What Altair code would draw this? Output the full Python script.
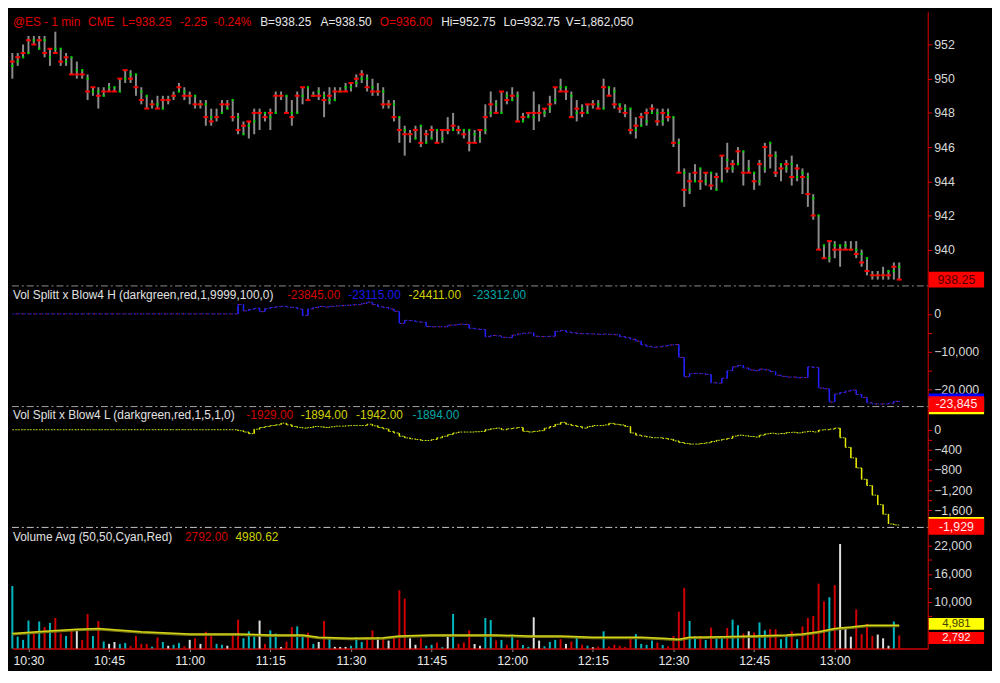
import altair as alt
import pandas as pd

FONT = "Liberation Sans"

# ---------------- data (1-minute bars, minutes after 10:30) ----------------
T_START = -3
OPEN = [950.75, 951.0, 951.25, 951.5, 952.25, 951.75, 952.25, 951.25, 951.75, 951.75, 951.0, 951.25, 950.5,
        950.5, 950.0, 949.25, 949.25, 949.0, 949.5, 949.5, 949.25, 950.0, 950.25,
        950.25, 949.25, 949.0, 948.5, 948.5, 948.25, 948.75, 949.0, 949.25, 949.25,
        949.0, 949.0, 948.5, 948.5, 947.75, 947.75, 948.0, 948.25, 948.75, 947.75,
        946.75, 947.25, 947.5, 948.0, 948.0, 947.75, 948.0, 949.0, 949.0, 948.0,
        948.0, 949.0, 949.5, 949.0, 949.25, 949.0, 948.75, 948.75, 949.25, 949.5,
        949.5, 949.75, 950.0, 950.0, 949.5, 949.25, 949.25, 948.5, 948.5, 947.75,
        947.0, 946.75, 946.5, 947.25, 946.25, 946.5, 947.0, 946.5, 947.0, 947.0,
        947.0, 947.0, 947.0, 946.75, 946.5, 947.0, 948.0, 948.5, 948.0, 949.0,
        948.75, 949.0, 947.5, 947.75, 947.75, 948.0, 948.0, 948.25, 948.75, 949.5,
        949.5, 949.0, 948.0, 948.25, 948.0, 948.5, 948.5, 948.25, 949.5, 949.25,
        948.5, 948.25, 948.25, 947.0, 947.25, 947.5, 948.0, 948.0, 947.5, 948.0,
        947.75, 946.25, 944.5, 943.5, 944.0, 944.75, 944.0, 944.5, 943.5, 944.0,
        945.25, 944.75, 945.0, 945.75, 944.75, 944.5, 944.0, 944.75, 946.25, 945.5,
        945.0, 944.75, 945.0, 944.25, 944.5, 944.25, 943.0, 942.0, 940.25, 939.5,
        940.25, 940.25, 940.25, 940.0, 940.0, 939.75, 939.5, 938.5, 938.5, 938.5,
        938.75, 938.75, 939.0]
HIGH = [951.5, 951.5, 952.0, 952.5, 952.5, 952.5, 952.5, 951.75, 952.75, 951.75, 951.5, 951.25, 951.0,
        950.5, 950.25, 949.5, 949.5, 949.5, 949.75, 949.5, 950.0, 950.5, 950.5,
        950.25, 949.5, 949.0, 948.75, 949.0, 949.0, 949.0, 949.25, 949.75, 949.5,
        949.25, 949.0, 948.75, 948.75, 948.25, 948.25, 948.75, 948.75, 948.75, 948.0,
        947.5, 947.5, 948.25, 948.25, 948.0, 948.25, 949.25, 949.25, 949.0, 948.75,
        949.25, 949.5, 949.5, 949.25, 949.5, 949.25, 949.5, 949.5, 949.5, 949.75,
        949.75, 950.25, 950.5, 950.25, 950.0, 949.75, 949.5, 948.75, 948.75, 947.75,
        947.25, 947.0, 947.25, 947.25, 947.0, 947.25, 947.0, 947.0, 947.75, 948.0,
        947.25, 947.0, 947.0, 947.0, 947.0, 948.5, 949.25, 948.75, 949.25, 949.25,
        949.5, 949.25, 948.0, 948.0, 949.25, 948.5, 948.25, 949.0, 949.5, 950.0,
        949.5, 949.25, 948.75, 948.5, 948.5, 948.75, 948.75, 950.0, 949.5, 949.5,
        948.5, 948.5, 948.25, 947.75, 948.0, 948.25, 948.5, 948.25, 948.25, 948.25,
        947.75, 946.5, 944.75, 944.5, 945.0, 944.75, 944.5, 944.5, 944.5, 945.5,
        946.25, 945.25, 946.0, 945.75, 945.25, 944.5, 945.25, 946.25, 946.25, 945.75,
        945.0, 945.25, 945.5, 945.0, 944.75, 944.5, 943.25, 942.0, 940.25, 940.5,
        940.5, 940.25, 940.5, 940.5, 940.5, 940.0, 939.5, 938.75, 938.75, 939.0,
        938.75, 939.25, 939.25]
LOW = [950.0, 950.75, 951.25, 951.5, 952.0, 951.75, 951.25, 950.75, 951.5, 950.75, 950.75, 950.25, 950.0,
       950.0, 948.75, 949.0, 948.25, 949.0, 949.25, 949.25, 949.25, 949.75, 949.75,
       949.0, 948.5, 948.25, 948.25, 948.25, 948.25, 948.5, 948.75, 949.25, 948.75,
       948.5, 948.25, 948.25, 947.25, 947.25, 947.5, 948.0, 948.25, 947.5, 946.75,
       946.75, 946.5, 946.75, 947.0, 947.5, 947.0, 948.0, 948.75, 948.0, 947.25,
       948.0, 948.5, 948.75, 949.0, 948.75, 947.75, 948.5, 948.75, 949.25, 949.25,
       949.25, 949.5, 949.75, 949.25, 949.0, 949.0, 948.25, 948.25, 947.5, 946.25,
       945.5, 946.25, 946.5, 946.0, 946.25, 946.5, 946.25, 946.25, 946.75, 947.0,
       946.75, 946.5, 945.75, 946.25, 946.25, 946.75, 947.75, 948.0, 948.0, 948.5,
       948.75, 947.5, 947.5, 947.75, 947.0, 947.5, 947.75, 948.0, 948.5, 949.25,
       948.75, 947.75, 947.5, 947.75, 948.0, 948.25, 948.25, 948.25, 949.0, 948.25,
       948.0, 947.75, 946.75, 946.5, 947.25, 947.25, 948.0, 947.25, 947.25, 947.5,
       946.0, 944.5, 942.5, 943.25, 944.0, 943.5, 943.75, 943.5, 943.5, 944.0,
       944.5, 944.5, 945.0, 943.75, 944.5, 943.5, 943.75, 944.5, 944.75, 944.25,
       944.0, 944.5, 943.75, 944.0, 943.25, 942.5, 941.75, 940.0, 939.5, 939.25,
       939.5, 939.0, 940.0, 940.0, 939.5, 939.0, 938.5, 938.25, 938.25, 938.25,
       938.25, 938.25, 938.25]
CLOSE = [951.0, 951.25, 951.5, 952.25, 952.0, 952.25, 951.5, 951.75, 951.5, 951.0, 951.25, 950.25, 950.25,
         950.25, 949.25, 949.5, 949.0, 949.25, 949.25, 949.25, 950.0, 950.5, 950.0,
         949.5, 948.75, 948.25, 948.5, 948.25, 948.75, 948.75, 949.0, 949.5, 949.0,
         949.0, 948.5, 948.5, 947.75, 947.5, 947.75, 948.5, 948.5, 947.75, 947.0,
         947.25, 947.5, 948.0, 948.0, 947.75, 948.0, 949.0, 949.0, 948.0, 947.75,
         949.0, 949.5, 948.75, 949.0, 949.0, 948.75, 949.0, 949.25, 949.25, 949.25,
         949.75, 950.0, 950.25, 949.5, 949.25, 949.25, 948.5, 948.5, 947.75, 947.0,
         946.75, 946.75, 947.0, 946.25, 946.75, 947.0, 946.25, 947.0, 947.0, 947.25,
         947.0, 946.75, 946.25, 946.25, 947.0, 947.75, 948.5, 948.0, 949.25, 948.75,
         949.0, 947.5, 947.75, 948.0, 948.0, 948.0, 948.25, 948.5, 949.5, 949.25,
         949.25, 947.75, 948.25, 948.0, 948.5, 948.5, 948.25, 949.5, 949.0, 948.5,
         948.25, 948.0, 947.0, 947.25, 947.75, 948.0, 948.25, 947.5, 948.0, 947.75,
         946.25, 944.5, 943.5, 944.0, 944.5, 944.0, 944.5, 943.75, 944.25, 945.5,
         944.75, 945.0, 945.75, 944.5, 944.5, 944.0, 945.0, 946.0, 945.5, 944.5,
         944.75, 945.0, 944.25, 944.75, 944.25, 943.25, 942.0, 940.0, 939.5, 940.5,
         940.0, 940.0, 940.0, 940.0, 939.75, 939.25, 938.75, 938.5, 938.5, 938.5,
         938.5, 939.0, 938.25]

# Vol Splitt x Blow4 H (thousands)
H_IND_K = [0.0] * 42 + [
    2.5, 0.8, 1.2, 1.5, 0.6, 1.4, 1.7, 1.9, 2.0, 1.8, 1.7, 1.3, -0.4, 1.3, 1.7, 2.0, 1.8, 2.0, 2.1, 2.2,
    2.3, 2.4, 2.5, 2.8, 3.1, 2.5, 1.9, 1.7, 1.3, 0.7, -2.5, -1.7, -1.8, -2.1, -2.2, -3.3, -3.4, -3.4, -3.4, -3.0,
    -2.9, -2.7, -2.8, -3.8, -4.0, -4.1, -6.0, -5.7, -5.8,
    -6.2, -6.3, -5.6, -5.3, -5.1, -5.0, -5.9, -6.0, -6.0, -5.9, -4.6, -4.4, -4.8, -5.0, -5.2,
    -5.2, -5.3, -5.3, -5.4, -5.3, -5.4, -5.5, -6.0, -6.3, -6.7, -7.2, -8.2, -8.6, -8.8, -8.7,
    -8.5, -8.2, -8.1, -11.5, -16.6, -15.8, -15.7, -15.8, -16.0, -18.2, -18.3, -17.0, -15.0, -14.0, -13.6,
    -14.3, -14.8, -15.0, -14.6, -14.8, -15.2, -16.2, -16.5, -16.7, -16.7, -16.9, -16.8, -14.0, -14.2, -19.6,
    -19.8, -23.3, -21.2, -20.8, -20.4, -20.1, -21.3, -22.1, -23.5, -23.8, -23.8, -23.8, -23.6, -23.1, -23.3]

# Vol Split x Blow4 L
L_IND = [0] * 42 + [
    -20, -46, -78, 10, 45, 65, 84, 97, 130, 97, 65, 45, 32, 45, 65, 58, 45, 58, 71, 71,
    78, 84, 84, 84, 110, 78, 45, 19, -33, -65, -130, -162, -182, -195, -214, -214, -195, -162, -130, -97,
    -65, -46, -46, -46, -40, -33, 0, 19, 32,
    0, 19, 32, 45, -32, -45, -32, -19, 32, 63, 108, 146, 108, 82, 63, 32, 63, 82, 82, 95,
    127, 108, 95, 63, -64, -108, -127, -146, -159, -159, -172, -190, -222, -254, -273, -286, -286, -273, -260, -235,
    -210, -190, -172, -127, -108, -121, -134, -146, -108, -83, -70, -83, -76, -57, -51, -64, -45, -32, -45, -6,
    0, 13, 32, -159, -350, -560, -760, -985, -1110, -1300, -1490, -1680, -1874, -1894, -1894]

VOL = [13400, 2550, 1860, 6000, 3240, 5800, 4600, 5500, 6550, 3240, 2700, 3900, 3900,
       1860, 7400, 2700, 5900, 1500, 1000, 1400, 1000, 1200, 600,
       2700, 1000, 1000, 400, 2400, 1400, 600, 800, 1200, 500,
       1860, 2200, 1000, 3600, 2900, 1000, 800, 600, 3100, 6200,
       2200, 3700, 2550, 6000, 1000, 3900, 3200, 350, 1500, 4600,
       4750, 2700, 3400, 1000, 1400, 5900, 2200, 350, 350, 350,
       600, 2400, 1400, 2400, 3900, 2400, 2400, 1700, 2400, 12500,
       10700, 2200, 800, 2200, 600, 800, 1300, 280, 2900, 7400,
       1000, 1300, 3900, 970, 600, 6550, 6100, 1700, 1860, 800,
       3000, 1860, 760, 350, 6700, 1700, 480, 1400, 1860, 2000,
       1000, 1500, 2550, 800, 600, 280, 400, 3700, 400, 800,
       600, 350, 2200, 3100, 1000, 800, 1700, 1300, 760, 480,
       2700, 7900, 13000, 5900, 2550, 2700, 1860, 4500, 2200, 2400,
       4400, 6200, 5000, 3240, 3700, 3450, 5600, 3900, 4150, 4150,
       2000, 2550, 3700, 2000, 4750, 6550, 7000, 13900, 10100, 11000,
       13600, 22400, 4600, 2550, 8400, 3100, 5300, 2700, 3000, 2200,
       600, 5800, 2792]
VOL_CLR = list("ccccrcrcrrcrw" "rrcrcwwccr" "rrrcrcwccr" "wrwrrccwrr" "cccwrccwrr"
               "ccrcwrcwww" "cccrrwrwrr" "rwwrccrcwc" "rrrwwccrcr" "crccwwcccr"
               "wrcrcwrcrr" "rrrccccrcr" "rrrccrcrcc" "rccrwrccrr" "ccrcrrrrrc"
               "rwwwrrrrww" "wcr")

AVG_T = [-3, 3, 9, 13, 21, 30, 39, 45, 51, 54, 60, 66, 69, 75, 87, 93, 99, 105, 114, 118,
         121, 123, 129, 135, 141, 144, 147, 150, 153, 156, 162]
AVG_V = [3240, 3700, 4150, 4300, 3600, 3100, 3100, 2900, 2900, 2400, 2200, 2300, 2700, 2900, 2900,
         2700, 2700, 2400, 2400, 2200, 2000, 2400, 2550, 2700, 2900, 3100, 3600, 4300, 4600, 5000, 4981]

TIME_TICKS = [0, 15, 30, 45, 60, 75, 90, 105, 120, 135, 150]
TIME_LABELS = ["10:30", "10:45", "11:00", "11:15", "11:30", "11:45", "12:00", "12:15", "12:30", "12:45", "13:00"]

N = len(OPEN)
for arr in (HIGH, LOW, CLOSE, H_IND_K, L_IND, VOL, VOL_CLR):
    assert len(arr) == N, len(arr)

df = pd.DataFrame({
    "t": list(range(T_START, T_START + N)),
    "open": OPEN, "high": HIGH, "low": LOW, "close": CLOSE,
    "h": [v * 1000 for v in H_IND_K], "l": L_IND,
    "vol": VOL, "vc": VOL_CLR,
})
df["h_prev"] = df["h"].shift(1).fillna(df["h"])
df["l_prev"] = df["l"].shift(1).fillna(df["l"])
avg_df = pd.DataFrame({"t": AVG_T, "v": AVG_V})

# ---------------- layout ----------------
W = 926
H1, H2, H3, H4 = 278, 122, 122, 122
XDOM = [-3.07, 167.3]
XSCALE = alt.Scale(domain=XDOM, nice=False, zero=False)
X = alt.X("t:Q", scale=XSCALE, axis=None)

RED_AX = "#e00000"
LBL = "#d8d8d8"


def yaxis(values, label_expr=None, fmt=None):
    kw = dict(orient="right", values=values, domainColor=RED_AX, tickColor=RED_AX, tickSize=4,
              labelColor=LBL, labelFont=FONT, labelFontSize=12.5, labelPadding=2, grid=False,
              title=None, labelFlush=False, labelOverlap=False, domainWidth=1)
    if label_expr:
        kw["labelExpr"] = label_expr
    if fmt:
        kw["format"] = fmt
    return alt.Axis(**kw)


def headers(items, y):
    layers = []
    for txt, px, col in items:
        layers.append(alt.Chart(pd.DataFrame({"a": [0]})).mark_text(
            align="left", baseline="middle", font=FONT, fontSize=12, color=col, text=txt).encode(
            x=alt.value(px), y=alt.value(y)))
    return layers


def boxes(items, yscale, yax, bh, fs=12):
    # items: (value, fill, label, text colour, pixel nudge)
    layers = []
    for v, fill, txt, tc, off in items:
        bd = pd.DataFrame({"v": [v], "txt": [txt]})
        b = alt.Chart(bd)
        layers.append(b.mark_rule(strokeWidth=bh, strokeCap="butt", color=fill, yOffset=off).encode(
            x=alt.value(W + 1), x2=alt.value(W + 57), y=alt.Y("v:Q", scale=yscale, axis=yax)))
        if txt:
            layers.append(b.mark_text(align="center", baseline="middle", font=FONT, fontSize=fs,
                                      color=tc, yOffset=off).encode(
                x=alt.value(W + 29), y=alt.Y("v:Q", scale=yscale, axis=yax), text="txt:N"))
    return layers


def separator(h):
    return alt.Chart(pd.DataFrame({"a": [0]})).mark_rule(
        color="#c8c8c8", strokeDash=[7, 3, 2, 3], strokeWidth=1).encode(
        x=alt.value(0), x2=alt.value(W), y=alt.value(h - 0.5))


base = alt.Chart(df)

# ---- panel 1: price bars ----
ys1 = alt.Scale(domain=[937.84, 953.92], nice=False, zero=False)
ax1 = yaxis([940, 942, 944, 946, 948, 950, 952], fmt="d")
hl = base.mark_rule(color="#8c8c8c", strokeWidth=2).encode(
    x=X, y=alt.Y("low:Q", scale=ys1, axis=ax1), y2="high:Q")
op = base.mark_square(size=5, color="#00d000", opacity=1).encode(
    x=X, y=alt.Y("open:Q", scale=ys1, axis=ax1))
cl = base.mark_tick(orient="horizontal", size=5, thickness=2, color="#ff0000", opacity=1).encode(
    x=X, y=alt.Y("close:Q", scale=ys1, axis=ax1))
hdr1 = headers([
    ("@ES - 1 min", 1, "#e00000"), ("CME", 77, "#e00000"), ("L=938.25", 111, "#e00000"),
    ("-2.25", 170, "#e00000"), ("-0.24%", 204, "#e00000"), ("B=938.25", 251, "#e8e8e8"),
    ("A=938.50", 312, "#e8e8e8"), ("O=936.00", 372, "#e00000"), ("Hi=952.75", 434, "#e8e8e8"),
    ("Lo=932.75", 497, "#e8e8e8"), ("V=1,862,050", 560, "#e8e8e8")], 11)
bx1 = boxes([(938.25, "#ff0000", "938.25", "#500000", 0)], ys1, ax1, 16, 12.5)
p1 = alt.layer(hl, op, cl, separator(H1), *hdr1, *bx1).properties(width=W, height=H1)

# ---- panel 2: Vol Splitt H ----
ys2 = alt.Scale(domain=[-24670, 7220], nice=False, zero=False)
ax2 = yaxis([0, -5000, -10000, -15000, -20000],
            "datum.value % 10000 == 0 ? format(datum.value, ',') : ''")
l2b = base.mark_line(interpolate="step-after", color="#2a2aff", strokeDash=[1.5, 1.5],
                     strokeWidth=1).encode(x=X, y=alt.Y("h:Q", scale=ys2, axis=ax2))
l2a = base.mark_line(interpolate="step-after", color="#ff2050", strokeDash=[1, 5], strokeDashOffset=1.5,
                     strokeWidth=1).encode(x=X, y=alt.Y("h:Q", scale=ys2, axis=ax2))
l2c = base.mark_rule(color="#2020ff", strokeWidth=1.5).encode(
    x=X, y=alt.Y("h_prev:Q", scale=ys2, axis=ax2), y2="h:Q")
hdr2 = headers([
    ("Vol Splitt x Blow4 H (darkgreen,red,1,9999,100,0)", 1, "#e0e0e0"),
    ("-23845.00", 278, "#d00000"), ("-23115.00", 340, "#1818e8"),
    ("-24411.00", 401, "#d0d000"), ("-23312.00", 466, "#00a8a8")], 9)
bx2 = boxes([(-23115, "#0000ff", "", "", 0), (-24411, "#ffff00", "", "", 0),
             (-23845, "#ff0000", "-23,845", "#ffe8e8", 0)], ys2, ax2, 16, 12.5)
p2 = alt.layer(l2b, l2a, l2c, separator(H2), *hdr2, *bx2).properties(width=W, height=H2)

# ---- panel 3: Vol Split L ----
ys3 = alt.Scale(domain=[-1952, 447], nice=False, zero=False)
ax3 = yaxis([0, -200, -400, -600, -800, -1000, -1200, -1400, -1600],
            "datum.value % 400 == 0 ? format(datum.value, ',') : ''")
l3a = base.mark_line(interpolate="step-after", color="#e8e800", strokeDash=[1.5, 1.5], strokeWidth=1).encode(
    x=X, y=alt.Y("l:Q", scale=ys3, axis=ax3))
l3b = base.mark_line(interpolate="step-after", color="#40b040", strokeDash=[1, 5], strokeDashOffset=1.5,
                     strokeWidth=1).encode(x=X, y=alt.Y("l:Q", scale=ys3, axis=ax3))
l3c = base.mark_rule(color="#e8e800", strokeWidth=1.5).encode(
    x=X, y=alt.Y("l_prev:Q", scale=ys3, axis=ax3), y2="l:Q")
hdr3 = headers([
    ("Vol Split x Blow4 L (darkgreen,red,1,5,1,0)", 1, "#e0e0e0"),
    ("-1929.00", 237, "#d00000"), ("-1894.00", 292, "#d0d000"),
    ("-1942.00", 348, "#d0d000"), ("-1894.00", 405, "#00a8a8")], 8)
bx3 = boxes([(-1894, "#ffff00", "", "", 0), (-1929, "#ff0000", "-1,929", "#ffe8e8", 0)], ys3, ax3, 16, 12.5)
p3 = alt.layer(l3a, l3b, l3c, separator(H3), *hdr3, *bx3).properties(width=W, height=H3)

# ---- panel 4: volume ----
ys4 = alt.Scale(domain=[0, 25860], nice=False, zero=False)
ax4 = yaxis([7000, 10000, 13000, 16000, 19000, 22000],
            "(datum.value - 10000) % 6000 == 0 ? format(datum.value, ',') : ''")
label_arr = "[" + ",".join("'%s'" % s for s in TIME_LABELS) + "]"
tick_arr = "[" + ",".join(str(v) for v in TIME_TICKS) + "]"
xaxis = alt.Axis(values=TIME_TICKS, orient="bottom",
                 labelExpr="%s[indexof(%s, datum.value)]" % (label_arr, tick_arr),
                 domainColor="#d00000", domainWidth=1.5, tickColor="#909090", tickSize=3,
                 labelColor="#e8e8e8", labelFont=FONT, labelFontSize=12.5, labelPadding=3,
                 grid=False, title=None, labelFlush=False)
X4 = alt.X("t:Q", scale=XSCALE, axis=xaxis)
vb = base.mark_rule(strokeWidth=2).encode(
    x=X4,
    y=alt.Y("vol:Q", scale=ys4, axis=ax4),
    y2=alt.datum(0),
    color=alt.Color("vc:N", scale=alt.Scale(domain=["r", "c", "w"], range=["#d00000", "#00b8c0", "#e0e0e0"]),
                    legend=None))
avg_shadow = alt.Chart(avg_df).mark_line(color="#7a7a10", strokeWidth=2, yOffset=1).encode(
    x=X4, y=alt.Y("v:Q", scale=ys4, axis=ax4))
avg = alt.Chart(avg_df).mark_line(color="#d4d418", strokeWidth=1.5).encode(
    x=X4, y=alt.Y("v:Q", scale=ys4, axis=ax4))
hdr4 = headers([
    ("Volume Avg (50,50,Cyan,Red)", 1, "#e0e0e0"),
    ("2792.00", 175, "#d00000"), ("4980.62", 226, "#d0d000")], 9)
bx4 = boxes([(4981, "#ffff00", "4,981", "#404000", -1.5), (2792, "#ff0000", "2,792", "#ffe8e8", 2.5)],
            ys4, ax4, 12, 11.5)
p4 = alt.layer(vb, avg_shadow, avg, *hdr4, *bx4).properties(width=W, height=H4)

chart = alt.VConcatChart(vconcat=[p1, p2, p3, p4], spacing=0, bounds="flush").properties(
    padding={"left": 0, "top": 0, "right": 0, "bottom": 0}
).configure(background="black", font=FONT).configure_view(stroke=None, fill="black")

chart.save("out.html", embed_options={"renderer": "svg", "actions": False})
